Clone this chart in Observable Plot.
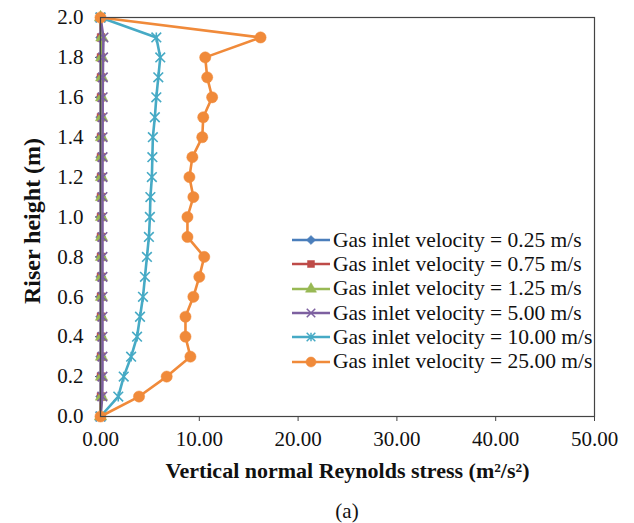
<!DOCTYPE html>
<html>
<head>
<meta charset="utf-8">
<script src="https://cdn.jsdelivr.net/npm/d3@7"></script>
<script src="https://cdn.jsdelivr.net/npm/@observablehq/plot@0.6"></script>
<style>
  body { margin: 0; background: #fff; }
  #wrap { position: relative; width: 634px; height: 523px; font-family: "Liberation Serif", "Times New Roman", serif; color: #111; }
  #chart svg { display: block; }
  #chart svg text { font-family: "Liberation Serif", "Times New Roman", serif !important; }
  #legend { position: absolute; left: 292px; top: 228px; }
  .row { display: flex; align-items: center; height: 24.3px; font-size: 21.5px; white-space: nowrap; }
  .row svg { margin-right: 3px; overflow: visible; }
  #cap { width: 634px; box-sizing: border-box; padding-left: 60px; text-align: center; font-size: 21px; line-height: 22px; height: 22px; }
</style>
</head>
<body>
<div id="wrap">
  <div id="chart"></div>
  <div id="legend"></div>
  <div id="cap">(a)</div>
</div>
<script>
// Riser heights (m) at which the stress was sampled
const heights = [0.0, 0.1, 0.2, 0.3, 0.4, 0.5, 0.6, 0.7, 0.8, 0.9, 1.0,
                 1.1, 1.2, 1.3, 1.4, 1.5, 1.6, 1.7, 1.8, 1.9, 2.0];

// Vertical normal Reynolds stress (m²/s²) for each gas inlet velocity
const stress025 = [0, 0.02, 0.02, 0.02, 0.02, 0.02, 0.02, 0.02, 0.02, 0.02, 0.02,
                   0.02, 0.02, 0.02, 0.02, 0.02, 0.02, 0.02, 0.02, 0.02, 0];
const stress075 = [0, 0.05, 0.05, 0.05, 0.05, 0.05, 0.05, 0.05, 0.05, 0.05, 0.05,
                   0.05, 0.05, 0.05, 0.05, 0.05, 0.05, 0.05, 0.05, 0.06, 0];
const stress125 = [0, 0.10, 0.10, 0.10, 0.10, 0.10, 0.10, 0.10, 0.10, 0.10, 0.10,
                   0.10, 0.10, 0.10, 0.10, 0.11, 0.11, 0.12, 0.12, 0.14, 0];
const stress500 = [0, 0.18, 0.20, 0.20, 0.20, 0.20, 0.20, 0.20, 0.20, 0.20, 0.20,
                   0.20, 0.20, 0.21, 0.21, 0.22, 0.22, 0.24, 0.26, 0.30, 0];
const stress1000 = [0, 1.8, 2.35, 3.1, 3.7, 4.0, 4.3, 4.5, 4.7, 4.9, 5.0,
                    5.05, 5.2, 5.25, 5.3, 5.5, 5.65, 5.85, 6.05, 5.65, 0];
const stress2500 = [0, 3.9, 6.7, 9.1, 8.6, 8.6, 9.4, 10.0, 10.5, 8.8, 8.8,
                    9.4, 9.0, 9.3, 10.3, 10.4, 11.3, 10.8, 10.6, 16.2, 0];

const velocities = ["0.25", "0.75", "1.25", "5.00", "10.00", "25.00"];
const seriesValues = [stress025, stress075, stress125, stress500, stress1000, stress2500];

// Axis ticks
const xTicks = [0, 10, 20, 30, 40, 50];
const yTicks = [0.0, 0.2, 0.4, 0.6, 0.8, 1.0, 1.2, 1.4, 1.6, 1.8, 2.0];

// Star marker: a vertical stroke crossed by an ×
const starSymbol = {
  draw(context, size) {
    const r = Math.sqrt(size) * 0.62;
    context.moveTo(0, -r); context.lineTo(0, r);
    context.moveTo(-r, -r); context.lineTo(r, r);
    context.moveTo(-r, r); context.lineTo(r, -r);
  }
};

const styles = [
  {color: "#4a7ebb", symbol: "diamond2", r: 4.6, filled: true},
  {color: "#be4b48", symbol: "square", r: 4.4, filled: true},
  {color: "#98b954", symbol: "triangle", r: 4.6, filled: true},
  {color: "#7d60a0", symbol: "times", r: 4.4, filled: false},
  {color: "#46aac5", symbol: starSymbol, r: 4.4, filled: false},
  {color: "#f08a3a", symbol: "circle", r: 5.6, filled: true}
];

const rows = velocities.map((v, i) => ({
  label: `Gas inlet velocity = ${v} m/s`,
  data: heights.map((h, j) => ({height: h, stress: seriesValues[i][j]})),
  style: styles[i]
}));

const marks = [];
rows.forEach(({data, style}) => {
  marks.push(Plot.line(data, {x: "stress", y: "height", stroke: style.color, strokeWidth: 2.6}));
  marks.push(Plot.dot(data, style.filled
    ? {x: "stress", y: "height", symbol: () => style.symbol, r: style.r, fill: style.color, stroke: style.color, strokeWidth: 0.5}
    : {x: "stress", y: "height", symbol: () => style.symbol, r: style.r, fill: "none", stroke: style.color, strokeWidth: 1.6}));
});

const serif = "'Liberation Serif', 'Times New Roman', serif";

const chart = Plot.plot({
  width: 634,
  height: 500,
  marginTop: 17,
  marginLeft: 100,
  marginRight: 40,
  marginBottom: 84,
  style: {fontFamily: serif, fontSize: "21px", color: "#111", background: "#fff"},
  x: {domain: [0, 50]},
  y: {domain: [0, 2]},
  symbol: {type: "identity"},
  marks: [
    Plot.axisX(xTicks, {tickFormat: d3.format(".2f"), tickSize: 5, tickPadding: 10, stroke: "#444", label: null, fontSize: 21, fontFamily: serif}),
    Plot.axisY(yTicks, {tickFormat: d3.format(".1f"), tickSize: 5, tickPadding: 12, stroke: "#444", label: null, fontSize: 21, fontFamily: serif}),
    ...marks,
    Plot.frame({stroke: "#444", strokeWidth: 1.2}),
    Plot.text(["Vertical normal Reynolds stress (m²/s²)"], {frameAnchor: "bottom", textAnchor: "middle", dy: 61, text: d => d, fontWeight: "bold", fontSize: 22, fontFamily: serif}),
    Plot.text(["Riser height (m)"], {frameAnchor: "left", textAnchor: "middle", lineAnchor: "middle", dx: -68, dy: 4, rotate: -90, text: d => d, fontWeight: "bold", fontSize: 24, fontFamily: serif})
  ]
});
document.getElementById("chart").appendChild(chart);

// Legend rows: line sample with marker, then label
const legend = d3.select("#legend");
rows.forEach(({label, style}) => {
  const row = legend.append("div").attr("class", "row");
  const svg = row.append("svg").attr("width", 38).attr("height", 20);
  svg.append("line").attr("x1", 0).attr("x2", 38).attr("y1", 10).attr("y2", 10)
    .attr("stroke", style.color).attr("stroke-width", 2.6);
  const symType = typeof style.symbol === "string"
    ? {diamond2: d3.symbolDiamond2, square: d3.symbolSquare, triangle: d3.symbolTriangle, times: d3.symbolTimes, circle: d3.symbolCircle}[style.symbol]
    : style.symbol;
  const path = d3.symbol(symType, Math.PI * style.r * style.r * 0.8)();
  svg.append("path").attr("d", path).attr("transform", "translate(19,10)")
    .attr("fill", style.filled ? style.color : "none")
    .attr("stroke", style.color).attr("stroke-width", style.filled ? 0.5 : 1.5);
  row.append("span").text(label);
});
</script>
</body>
</html>
